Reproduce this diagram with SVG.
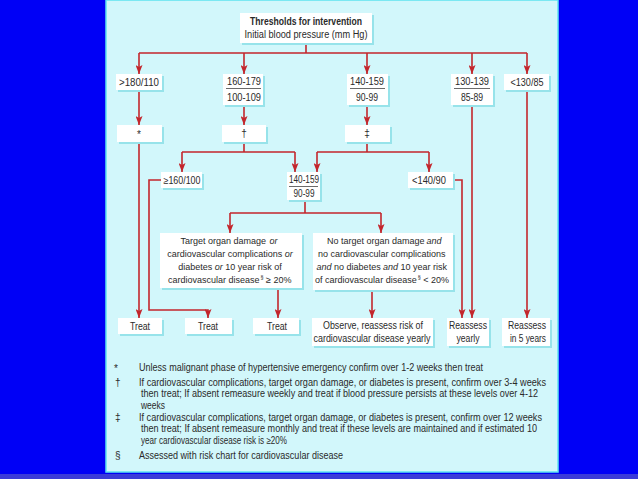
<svg xmlns="http://www.w3.org/2000/svg" width="638" height="479" viewBox="0 0 638 479">
<style>
.n{fill:#ffffff}
.s{fill:#97e3ea}
.t{font-family:"Liberation Sans",Arial,sans-serif;font-size:10px;fill:#2a2a2a;text-anchor:middle}
.f{font-family:"Liberation Sans",Arial,sans-serif;font-size:10px;fill:#2a2a2a}
.g{font-family:"Liberation Sans",Arial,sans-serif;font-size:9px;fill:#2a2a2a}
.i{font-style:italic}
.sup{font-family:"Liberation Sans",Arial,sans-serif;font-size:5.4px;fill:#2a2a2a}
.b{font-weight:bold}
.c{fill:none;stroke:#c3262c;stroke-width:1.6}
.r{stroke:#444;stroke-width:0.8}
</style>
<defs>
<marker id="a" markerUnits="userSpaceOnUse" markerWidth="7" markerHeight="9" refX="3.5" refY="9" orient="0">
<path d="M0,0 L3.5,2 L7,0 L3.5,9 z" fill="#c3262c"/>
</marker>
</defs>
<rect x="0" y="0" width="638" height="479" fill="#0000f6"/>
<rect x="0" y="474" width="638" height="5" fill="#3b3bd8"/>
<rect x="106" y="0" width="452" height="472" fill="#d2f7fb" stroke="#5fe3f0" stroke-width="1.5"/>

<g id="connectors">
<path class="c" d="M306,43 V53 M139,53 H527"/>
<path class="c" marker-end="url(#a)" d="M139,53 V74"/>
<path class="c" marker-end="url(#a)" d="M244,53 V74"/>
<path class="c" marker-end="url(#a)" d="M367,53 V74"/>
<path class="c" marker-end="url(#a)" d="M472,53 V74"/>
<path class="c" marker-end="url(#a)" d="M527,53 V74"/>
<path class="c" marker-end="url(#a)" d="M139,90 V125"/>
<path class="c" marker-end="url(#a)" d="M244,105 V125"/>
<path class="c" marker-end="url(#a)" d="M367,105 V125"/>
<path class="c" marker-end="url(#a)" d="M139,142 V318"/>
<path class="c" d="M244,142 V152 M182,152 H295"/>
<path class="c" marker-end="url(#a)" d="M182,152 V172"/>
<path class="c" marker-end="url(#a)" d="M295,152 V172"/>
<path class="c" d="M367,142 V152 M317,152 H429"/>
<path class="c" marker-end="url(#a)" d="M317,152 V172"/>
<path class="c" marker-end="url(#a)" d="M429,152 V172"/>
<path class="c" marker-end="url(#a)" d="M161,180 H149 V310 H208 V318"/>
<path class="c" marker-end="url(#a)" d="M453,180 H462 V318"/>
<path class="c" marker-end="url(#a)" d="M472,105 V318"/>
<path class="c" marker-end="url(#a)" d="M527,90 V318"/>
<path class="c" d="M305,200 V213 M230,213 H381"/>
<path class="c" marker-end="url(#a)" d="M230,213 V233"/>
<path class="c" marker-end="url(#a)" d="M381,213 V233"/>
<path class="c" marker-end="url(#a)" d="M278,288 V318"/>
<path class="c" marker-end="url(#a)" d="M372,290 V318"/>
</g>

<g id="title">
<rect class="s" x="242" y="15" width="132" height="30"/>
<rect class="n" x="240" y="13" width="132" height="30"/>
<text class="t b" x="306" y="25" textLength="112" lengthAdjust="spacingAndGlyphs">Thresholds for intervention</text>
<text class="t" x="306" y="38" textLength="123" lengthAdjust="spacingAndGlyphs">Initial blood pressure (mm Hg)</text>
</g>

<g id="n180">
<rect class="s" x="118" y="76" width="46" height="16"/>
<rect class="n" x="116" y="74" width="46" height="16"/>
<text class="t" x="139" y="86" textLength="40" lengthAdjust="spacingAndGlyphs">&gt;180/110</text>
</g>
<g id="n160">
<rect class="s" x="225" y="76" width="40" height="31"/>
<rect class="n" x="223" y="74" width="40" height="31"/>
<text class="t" x="244" y="85" textLength="34" lengthAdjust="spacingAndGlyphs">160-179</text>
<line class="r" x1="226" y1="88.5" x2="261" y2="88.5"/>
<text class="t" x="244" y="101" textLength="34" lengthAdjust="spacingAndGlyphs">100-109</text>
</g>
<g id="n140">
<rect class="s" x="349" y="76" width="41" height="31"/>
<rect class="n" x="347" y="74" width="41" height="31"/>
<text class="t" x="367" y="85" textLength="34" lengthAdjust="spacingAndGlyphs">140-159</text>
<line class="r" x1="350" y1="88.5" x2="385" y2="88.5"/>
<text class="t" x="367" y="101" textLength="22" lengthAdjust="spacingAndGlyphs">90-99</text>
</g>
<g id="n130">
<rect class="s" x="453" y="76" width="42" height="31"/>
<rect class="n" x="451" y="74" width="42" height="31"/>
<text class="t" x="472" y="85" textLength="34" lengthAdjust="spacingAndGlyphs">130-139</text>
<line class="r" x1="454" y1="88.5" x2="490" y2="88.5"/>
<text class="t" x="472" y="101" textLength="22" lengthAdjust="spacingAndGlyphs">85-89</text>
</g>
<g id="nlt130">
<rect class="s" x="506" y="76" width="45" height="16"/>
<rect class="n" x="504" y="74" width="45" height="16"/>
<text class="t" x="527" y="86" textLength="33" lengthAdjust="spacingAndGlyphs">&lt;130/85</text>
</g>

<g id="star">
<rect class="s" x="119" y="127" width="45" height="17"/>
<rect class="n" x="117" y="125" width="45" height="17"/>
<text class="t" x="139" y="138">*</text>
</g>
<g id="dagger">
<rect class="s" x="224" y="127" width="44" height="17"/>
<rect class="n" x="222" y="125" width="44" height="17"/>
<text class="t" x="244" y="137">†</text>
</g>
<g id="ddagger">
<rect class="s" x="347" y="127" width="45" height="17"/>
<rect class="n" x="345" y="125" width="45" height="17"/>
<text class="t" x="367" y="137">‡</text>
</g>

<g id="nge160">
<rect class="s" x="163" y="174" width="41" height="16"/>
<rect class="n" x="161" y="172" width="41" height="16"/>
<text class="t" x="182" y="184" textLength="37" lengthAdjust="spacingAndGlyphs">≥160/100</text>
</g>
<g id="n140b">
<rect class="s" x="289" y="174" width="33" height="28"/>
<rect class="n" x="287" y="172" width="33" height="28"/>
<text class="t" x="304" y="183" textLength="30" lengthAdjust="spacingAndGlyphs">140-159</text>
<line class="r" x1="289" y1="186.5" x2="318" y2="186.5"/>
<text class="t" x="304" y="197" textLength="21" lengthAdjust="spacingAndGlyphs">90-99</text>
</g>
<g id="nlt140">
<rect class="s" x="410" y="174" width="45" height="16"/>
<rect class="n" x="408" y="172" width="45" height="16"/>
<text class="t" x="429" y="184" textLength="34" lengthAdjust="spacingAndGlyphs">&lt;140/90</text>
</g>

<g id="target">
<rect class="s" x="162" y="235" width="142" height="55"/>
<rect class="n" x="160" y="233" width="142" height="55"/>
<text class="g" x="180.5" y="244">Target organ damage</text>
<text class="g i" x="269.6" y="244">or</text>
<text class="g" x="167.2" y="257">cardiovascular complications</text>
<text class="g i" x="284.8" y="257">or</text>
<text class="g" x="178.3" y="270">diabetes</text>
<text class="g i" x="214.8" y="270">or</text>
<text class="g" x="225.3" y="270">10 year risk of</text>
<text class="g" x="168" y="283">cardiovascular disease</text>
<text class="sup" x="260.6" y="278.5">§</text>
<text class="g" x="266.1" y="283">≥ 20%</text>
</g>
<g id="notarget">
<rect class="s" x="315" y="235" width="140" height="57"/>
<rect class="n" x="313" y="233" width="140" height="57"/>
<text class="g" x="327" y="244">No target organ damage</text>
<text class="g i" x="426.5" y="244">and</text>
<text class="g" x="318" y="257">no cardiovascular complications</text>
<text class="g i" x="316.6" y="270">and</text>
<text class="g" x="334.1" y="270">no diabetes</text>
<text class="g i" x="383.1" y="270">and</text>
<text class="g" x="400.6" y="270">10 year risk</text>
<text class="g" x="315.1" y="283">of cardiovascular disease</text>
<text class="sup" x="417.7" y="278.5">§</text>
<text class="g" x="423.2" y="283">&lt; 20%</text>
</g>

<g id="treat1">
<rect class="s" x="120" y="320" width="44" height="16"/>
<rect class="n" x="118" y="318" width="44" height="16"/>
<text class="t" x="140" y="330" textLength="20" lengthAdjust="spacingAndGlyphs">Treat</text>
</g>
<g id="treat2">
<rect class="s" x="187" y="320" width="47" height="16"/>
<rect class="n" x="185" y="318" width="47" height="16"/>
<text class="t" x="208" y="330" textLength="20" lengthAdjust="spacingAndGlyphs">Treat</text>
</g>
<g id="treat3">
<rect class="s" x="255" y="320" width="46" height="16"/>
<rect class="n" x="253" y="318" width="46" height="16"/>
<text class="t" x="277" y="330" textLength="20" lengthAdjust="spacingAndGlyphs">Treat</text>
</g>
<g id="observe">
<rect class="s" x="314" y="320" width="121" height="28"/>
<rect class="n" x="312" y="318" width="121" height="28"/>
<text class="t" x="373" y="329" textLength="100" lengthAdjust="spacingAndGlyphs">Observe, reassess risk of</text>
<text class="t" x="372" y="342" textLength="117" lengthAdjust="spacingAndGlyphs">cardiovascular disease yearly</text>
</g>
<g id="reassess1">
<rect class="s" x="449" y="320" width="42" height="28"/>
<rect class="n" x="447" y="318" width="42" height="28"/>
<text class="t" x="468" y="329" textLength="38" lengthAdjust="spacingAndGlyphs">Reassess</text>
<text class="t" x="468" y="342" textLength="23" lengthAdjust="spacingAndGlyphs">yearly</text>
</g>
<g id="reassess5">
<rect class="s" x="504" y="320" width="48" height="28"/>
<rect class="n" x="502" y="318" width="48" height="28"/>
<text class="t" x="527" y="329" textLength="38" lengthAdjust="spacingAndGlyphs">Reassess</text>
<text class="t" x="528" y="342" textLength="36" lengthAdjust="spacingAndGlyphs">in 5 years</text>
</g>

<g id="footnotes">
<text class="f" x="114" y="372">*</text>
<text class="f" x="139" y="371" textLength="344" lengthAdjust="spacingAndGlyphs">Unless malignant phase of hypertensive emergency confirm over 1-2 weeks then treat</text>
<text class="f" x="115" y="386">†</text>
<text class="f" x="139" y="386" textLength="407" lengthAdjust="spacingAndGlyphs">If cardiovascular complications, target organ damage, or diabetes is present, confirm over 3-4 weeks</text>
<text class="f" x="141" y="397" textLength="397" lengthAdjust="spacingAndGlyphs">then treat; If absent remeasure weekly and treat if blood pressure persists at these levels over 4-12</text>
<text class="f" x="141" y="408.5" textLength="24" lengthAdjust="spacingAndGlyphs">weeks</text>
<text class="f" x="115" y="420.5">‡</text>
<text class="f" x="139" y="420.5" textLength="403" lengthAdjust="spacingAndGlyphs">If cardiovascular complications, target organ damage, or diabetes is present, confirm over 12 weeks</text>
<text class="f" x="141" y="432" textLength="396" lengthAdjust="spacingAndGlyphs">then treat; If absent remeasure monthly and treat if these levels are maintained and if estimated 10</text>
<text class="f" x="141" y="443.5" textLength="146" lengthAdjust="spacingAndGlyphs">year cardiovascular disease risk is ≥20%</text>
<text class="f" x="115" y="458.5">§</text>
<text class="f" x="139" y="458.5" textLength="204" lengthAdjust="spacingAndGlyphs">Assessed with risk chart for cardiovascular disease</text>
</g>
</svg>
